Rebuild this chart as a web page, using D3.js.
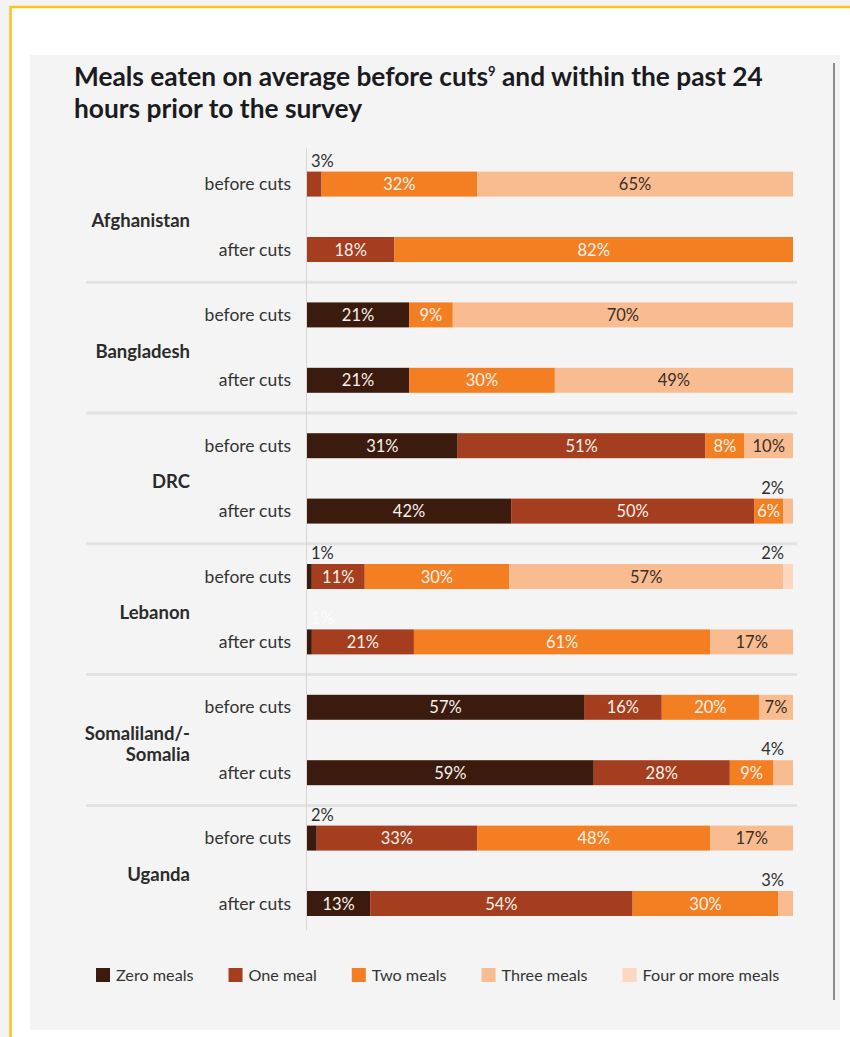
<!DOCTYPE html>
<html>
<head>
<meta charset="utf-8">
<script src="https://cdn.jsdelivr.net/npm/d3@7"></script>
<style>
  body { margin: 0; background: #f3f3f3; }
  svg { display: block; font-family: Lato, "Open Sans", sans-serif; }
</style>
</head>
<body>
<div id="chart"></div>
<script>
// data
var countries = ["Afghanistan", "Bangladesh", "DRC", "Lebanon", "Somaliland/-Somalia", "Uganda"];
var periods = ["before cuts", "after cuts"];
var categories = ["Zero meals", "One meal", "Two meals", "Three meals", "Four or more meals"];
// one value per country x period, in the order above
var zeroMeals  = [0, 0,   21, 21,  31, 42,  1, 1,    57, 59,  2, 13];
var oneMeal    = [3, 18,  0, 0,    51, 50,  11, 21,  16, 28,  33, 54];
var twoMeals   = [32, 82, 9, 30,   8, 6,    30, 61,  20, 9,   48, 30];
var threeMeals = [65, 0,  70, 49,  10, 2,   57, 17,  7, 4,    17, 3];
var fourMore   = [0, 0,   0, 0,    0, 0,    2, 0,    0, 0,    0, 0];
var faintLabels = ["Lebanon|after cuts"]; // the 1% there is printed white in the source

var colors = ["#3b1b0e", "#a43e1f", "#f47f22", "#f9bc90", "#fdd7c0"];

var width = 850, height = 1037;

var rows = [];
countries.forEach(function(c, i) {
  periods.forEach(function(p, j) {
    var k = i * 2 + j;
    var vals = [zeroMeals[k], oneMeal[k], twoMeals[k], threeMeals[k], fourMore[k]];
    rows.push({country: c, period: p, vals: vals, total: d3.sum(vals)});
  });
});

var svg = d3.select("#chart").append("svg")
  .attr("width", width)
  .attr("height", height);

// frame: white card with yellow top/left border, grey panel inside
svg.append("rect").attr("x", 10).attr("y", 7).attr("width", 845).attr("height", 1040).attr("fill", "#fff");
svg.append("path").attr("d", "M10.5,1040 V7 H850")
  .attr("fill", "none").attr("stroke", "#fbc317").attr("stroke-width", 2.5);
svg.append("rect").attr("x", 30).attr("y", 55).attr("width", 810).attr("height", 975).attr("fill", "#f4f4f4");
svg.append("line").attr("x1", 834).attr("x2", 834).attr("y1", 63).attr("y2", 1000)
  .attr("stroke", "#6b6b6b").attr("stroke-width", 1.5);

// title
var title = svg.append("g").attr("fill", "#1b1b1f").style("font-weight", 700).style("font-size", "26.3px");
var t1 = title.append("text").attr("x", 74).attr("y", 86);
t1.append("tspan").text("Meals eaten on average before cuts");
t1.append("tspan").attr("dy", -10).style("font-size", "13px").text("9");
t1.append("tspan").attr("dy", 10).text(" and within the past 24");
title.append("text").attr("x", 74).attr("y", 118).text("hours prior to the survey");

// scales
var x = d3.scaleLinear().domain([0, 100]).range([307, 793]);
var yGroup = d3.scaleBand().domain(countries).range([151.4, 936.2]);
var yBar = d3.scaleBand().domain(periods).range([0, yGroup.bandwidth()])
  .paddingInner(0.618).paddingOuter(0.309);

// separators between countries
svg.append("g").selectAll("line")
  .data(countries.slice(1))
  .join("line")
  .attr("x1", 86).attr("x2", 797)
  .attr("y1", function(d) { return yGroup(d); })
  .attr("y2", function(d) { return yGroup(d); })
  .attr("stroke", "#e2e2e2").attr("stroke-width", 3);

// baseline
svg.append("line")
  .attr("x1", x(0) - 0.5).attr("x2", x(0) - 0.5)
  .attr("y1", yGroup.range()[0] - 3).attr("y2", yGroup.range()[1] - 6)
  .attr("stroke", "#d6d6d6").attr("stroke-width", 1);

// country labels
svg.append("g").selectAll("text")
  .data(countries)
  .join("text")
  .attr("text-anchor", "end")
  .attr("fill", "#2b2b2b")
  .style("font-weight", 700).style("font-size", "18.5px")
  .each(function(d) {
    var lines = d.indexOf("/-") > -1 ? [d.split("/-")[0] + "/-", d.split("/-")[1]] : [d];
    var cy = yGroup(d) + yGroup.bandwidth() / 2;
    var sel = d3.select(this);
    lines.forEach(function(l, i) {
      sel.append("tspan").attr("x", 190)
        .attr("y", cy + 10 - (lines.length - 1) * 21 / 2 + i * 21)
        .text(l);
    });
  });

var rowY = function(r) { return yGroup(r.country) + yBar(r.period); };
var bh = yBar.bandwidth();

// period labels
svg.append("g").selectAll("text")
  .data(rows)
  .join("text")
  .attr("x", 291)
  .attr("y", function(r) { return rowY(r) + bh / 2 + 6; })
  .attr("text-anchor", "end")
  .attr("fill", "#333")
  .style("font-size", "17.5px")
  .text(function(r) { return r.period; });

// segments
var segs = [];
rows.forEach(function(r) {
  var cum = 0;
  r.vals.forEach(function(v, ci) {
    if (v > 0) {
      segs.push({row: r, ci: ci, v: v, x0: cum / r.total * 100, x1: (cum + v) / r.total * 100});
    }
    cum += v;
  });
});

svg.append("g").selectAll("rect")
  .data(segs)
  .join("rect")
  .attr("x", function(s) { return x(s.x0); })
  .attr("width", function(s) { return x(s.x1) - x(s.x0); })
  .attr("y", function(s) { return rowY(s.row); })
  .attr("height", bh)
  .attr("fill", function(s) { return colors[s.ci]; });

// value labels
svg.append("g").selectAll("text")
  .data(segs)
  .join("text")
  .style("font-size", "16.5px")
  .each(function(s) {
    var sel = d3.select(this);
    var y0 = rowY(s.row);
    if (s.v < 5) {
      // small shares are labelled above the bar
      var atStart = s.x0 === 0;
      var faint = faintLabels.indexOf(s.row.country + "|" + s.row.period) > -1;
      sel.attr("x", atStart ? x(0) + 4 : x(100) - 9)
        .attr("y", y0 - 5)
        .attr("text-anchor", atStart ? "start" : "end")
        .attr("fill", faint ? "#fbfbfb" : "#2f2f33");
    } else {
      sel.attr("x", (x(s.x0) + x(s.x1)) / 2)
        .attr("y", y0 + bh / 2 + 6)
        .attr("text-anchor", "middle")
        .attr("fill", s.ci >= 3 ? "#3a2e2a" : "#f8f2ea");
    }
    sel.text(s.v + "%");
  });

// legend
var legend = svg.append("g").attr("transform", "translate(96,968)");
var lx = 0;
categories.forEach(function(c, i) {
  var g = legend.append("g").attr("transform", "translate(" + lx + ",0)");
  g.append("rect").attr("width", 14).attr("height", 14).attr("fill", colors[i]);
  var t = g.append("text").attr("x", 20).attr("y", 12.5)
    .attr("fill", "#333").style("font-size", "16.2px").text(c);
  lx += 20 + t.node().getComputedTextLength() + 35;
});
</script>
</body>
</html>
